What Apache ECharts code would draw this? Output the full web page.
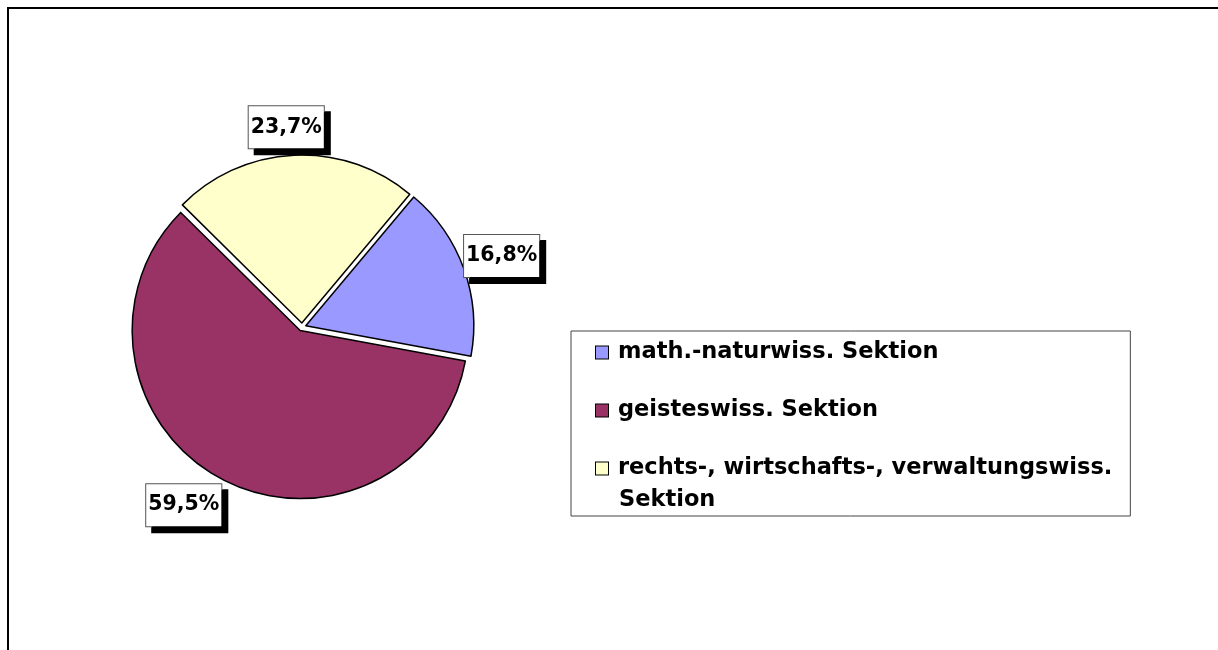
<!DOCTYPE html>
<html>
<head>
<meta charset="utf-8">
<script src="https://cdn.jsdelivr.net/npm/echarts@6/dist/echarts.min.js"></script>
<style>
  html, body { margin: 0; padding: 0; background: #fff; }
  #chart { width: 1218px; height: 650px; }
</style>
</head>
<body>
<div id="chart"></div>
<script>
// Anteile der Sektionen (in %)
const sections = ['math.-naturwiss. Sektion', 'geisteswiss. Sektion', 'rechts-, wirtschafts-, verwaltungswiss. Sektion']
const legendLines = [['math.-naturwiss. Sektion'], ['geisteswiss. Sektion'], ['rechts-, wirtschafts-, verwaltungswiss.', 'Sektion']]
const shares = [16.8, 59.5, 23.7]
const colors = ['#9999FF', '#993366', '#FFFFCC']

const chart = echarts.init(document.getElementById('chart'))

const fmt = v => v.toFixed(1).replace('.', ',') + '%'

// Excel setzt die Beschriftungen nicht ganz radial, kleine Korrektur je Stück
const labelNudge = [[2, 0], [-21, -8], [-6, 10]]

// Legende: Kästchen als rich-text, damit es bei der ersten Zeile steht
const rich = {
  g: { width: 10 },
  ind: { width: 23 },
  t: { fontSize: 22.5, fontWeight: 'bold', fontFamily: 'DejaVu Sans', color: '#000', lineHeight: 32 }
}
colors.forEach((c, i) => {
  rich['b' + i] = { width: 12, height: 12, backgroundColor: c, borderColor: '#000', borderWidth: 1 }
})

const option = {
  animation: false,
  backgroundColor: '#fff',
  graphic: [{
    type: 'rect',
    shape: { x: 8, y: 8, width: 1400, height: 800 },
    style: { fill: 'none', stroke: '#000', lineWidth: 2 },
    silent: true
  }],
  legend: {
    orient: 'vertical',
    left: 571,
    top: 331,
    icon: 'rect',
    itemWidth: 0,
    itemHeight: 0,
    itemGap: 35,
    itemStyle: { opacity: 0 },
    padding: [10, 18, 4, 19],
    borderColor: '#444',
    borderWidth: 1,
    selectedMode: false,
    data: sections,
    textStyle: { rich: rich, fontFamily: 'DejaVu Sans' },
    formatter: name => {
      const i = sections.indexOf(name)
      const lines = legendLines[i]
      let s = '{b' + i + '|}{g|}{t|' + lines[0] + '}'
      for (let k = 1; k < lines.length; k++) s += '\n{ind|}{t|' + lines[k] + '}'
      return s
    }
  },
  series: [{
    type: 'pie',
    center: [302, 327],
    radius: 168,
    startAngle: 50,
    clockwise: true,
    avoidLabelOverlap: false,
    selectedMode: 'multiple',
    selectedOffset: 4,
    emphasis: { disabled: true },
    itemStyle: { borderColor: '#000', borderWidth: 1.5 },
    select: { itemStyle: { borderColor: '#000', borderWidth: 1.5 } },
    label: {
      show: true,
      position: 'outside',
      distanceToLabelLine: 0,
      formatter: p => fmt(p.value),
      fontFamily: 'DejaVu Sans',
      fontWeight: 'bold',
      fontSize: 20.5,
      lineHeight: 20,
      color: '#000',
      backgroundColor: '#fff',
      borderColor: '#555',
      borderWidth: 1,
      padding: [12, 2, 10, 2],
      shadowColor: '#000',
      shadowBlur: 0,
      shadowOffsetX: 6,
      shadowOffsetY: 6
    },
    labelLine: { show: false, length: 38, length2: 0 },
    labelLayout: p => ({
      align: 'center',
      verticalAlign: 'middle',
      dx: labelNudge[p.dataIndex][0],
      dy: labelNudge[p.dataIndex][1]
    }),
    data: sections.map((n, i) => ({
      name: n,
      value: shares[i],
      selected: true,
      itemStyle: { color: colors[i] }
    }))
  }]
}

chart.setOption(option)
</script>
</body>
</html>
